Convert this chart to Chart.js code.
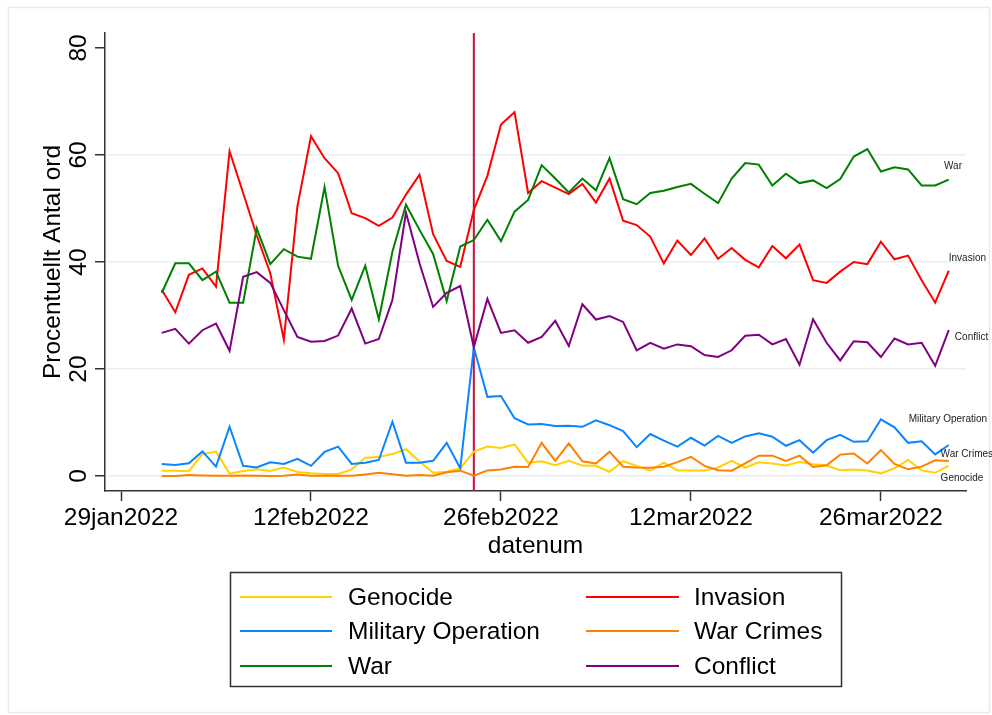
<!DOCTYPE html>
<html lang="en">
<head>
<meta charset="UTF-8">
<title>Procentuellt Antal ord</title>
<script src="https://cdn.jsdelivr.net/npm/chart.js@4"></script>
<style>
  html, body { margin: 0; padding: 0; background: #fff; }
</style>
</head>
<body>
<canvas id="myChart" width="992" height="715"></canvas>

<script>
  // day 0 of the x axis = 29jan2022 (first tick)
  const startDay = Date.UTC(2022, 0, 29);
  const dates = [];
  for (let t = Date.UTC(2022, 1, 1); t <= Date.UTC(2022, 2, 31); t += 864e5) {
    dates.push(new Date(t).toISOString().slice(0, 10));
  }
  const xTicks = ['2022-01-29', '2022-02-12', '2022-02-26', '2022-03-12', '2022-03-26'];
  const invasionDay = '2022-02-24';
  const yTicks = [0, 20, 40, 60, 80];
  const monthNames = ['jan', 'feb', 'mar', 'apr', 'may', 'jun', 'jul', 'aug', 'sep', 'oct', 'nov', 'dec'];

  const seriesNames = ['Genocide', 'Invasion', 'Military Operation', 'War Crimes', 'War', 'Conflict'];
  const seriesColors = ['#ffd200', '#ff0000', '#0a84ff', '#ff8000', '#008000', '#800080'];

  const genocide = [1, 1, 0.9, 4.1, 4.55, 0.45, 0.95, 1.25, 0.95, 1.6, 0.75, 0.5, 0.4, 0.4, 1.25,
    3.4, 3.55, 4.1, 5, 2.7, 0.6, 0.8, 1.45, 4.55, 5.5, 5.25, 5.9, 2.5, 2.75, 2,
    2.85, 1.95, 1.9, 0.8, 2.8, 1.9, 1, 2.5, 1.05, 1.05, 1.05, 1.6, 2.85, 1.55, 2.55,
    2.35, 1.95, 2.6, 2.2, 1.95, 1.1, 1.2, 1.05, 0.5, 1.45, 3, 1.05, 0.6, 1.95];
  const invasion = [34.8, 30.6, 37.6, 38.8, 35.4, 60.7, 52.9, 45, 37.9, 25.5, 50.4, 63.5, 59.4, 56.6, 49.1,
    48.2, 46.75, 48.3, 52.6, 56.3, 45.2, 40.2, 39.1, 49.75, 56.1, 65.7, 68, 52.9, 55.1, 53.9,
    52.7, 54.6, 51.1, 55.6, 47.7, 46.9, 44.75, 39.75, 44, 41.3, 44.4, 40.6, 42.6, 40.4, 39,
    43, 40.7, 43.25, 36.6, 36.1, 38.2, 40, 39.6, 43.8, 40.5, 41.2, 36.6, 32.4, 38.4];
  const militaryOperation = [2.25, 2.05, 2.4, 4.6, 1.75, 9.2, 1.9, 1.6, 2.55, 2.25, 3.2, 1.9, 4.5, 5.5, 2.25,
    2.5, 3, 10.15, 2.5, 2.5, 2.85, 6.2, 1.45, 24, 14.8, 14.95, 10.8, 9.65, 9.7, 9.35,
    9.4, 9.2, 10.4, 9.5, 8.4, 5.4, 7.85, 6.6, 5.5, 7.15, 5.7, 7.5, 6.2, 7.4, 8,
    7.35, 5.65, 6.7, 4.35, 6.7, 7.7, 6.4, 6.5, 10.6, 9.1, 6.2, 6.5, 4.05, 5.8];
  const warCrimes = [0, 0, 0.2, 0.1, 0.05, 0.05, 0.1, 0.05, 0, 0.05, 0.3, 0.05, 0.05, 0.05, 0.05,
    0.3, 0.6, 0.35, 0.05, 0.2, 0.05, 0.7, 1, 0.05, 1.05, 1.2, 1.75, 1.7, 6.2, 2.85,
    6.1, 2.75, 2.35, 4.55, 1.75, 1.6, 1.55, 1.75, 2.6, 3.6, 1.9, 1.1, 1, 2.35, 3.8,
    3.8, 2.8, 3.8, 1.7, 2, 4, 4.2, 2.35, 4.85, 2.25, 1.25, 1.75, 2.95, 2.8];
  const war = [34.2, 39.75, 39.75, 36.6, 38.2, 32.4, 32.4, 46.3, 39.6, 42.4, 41, 40.6, 54, 39.3, 32.9,
    39.3, 29.3, 41.9, 50.7, 46, 41.5, 32.7, 42.9, 44.1, 47.9, 43.9, 49.4, 51.6, 58.1, 55.6,
    53, 55.6, 53.4, 59.4, 51.75, 50.8, 52.9, 53.3, 54, 54.6, 52.75, 51, 55.6, 58.5, 58.2,
    54.3, 56.5, 54.75, 55.25, 53.8, 55.5, 59.7, 61.1, 56.9, 57.7, 57.3, 54.3, 54.3, 55.4];
  const conflict = [26.75, 27.5, 24.75, 27.25, 28.5, 23.4, 37.25, 38.1, 36.1, 31, 26, 25.1, 25.25, 26.25, 31.3,
    24.75, 25.6, 32.9, 49.25, 39.75, 31.6, 34.25, 35.5, 24.1, 33.1, 26.75, 27.25, 24.9, 26, 29,
    24.3, 32.1, 29.25, 29.9, 28.8, 23.5, 24.9, 23.8, 24.6, 24.25, 22.6, 22.25, 23.5, 26.2, 26.4,
    24.6, 25.6, 20.8, 29.3, 24.9, 21.6, 25.2, 25, 22.25, 25.7, 24.6, 24.9, 20.6, 27.25];

  const seriesValues = [genocide, invasion, militaryOperation, warCrimes, war, conflict];

  function dayNum(s) {
    return (Date.parse(s) - startDay) / 864e5;
  }
  function fmtDay(v) {
    const d = new Date(startDay + Math.round(v) * 864e5);
    return String(d.getUTCDate()).padStart(2, '0') + monthNames[d.getUTCMonth()] + d.getUTCFullYear();
  }

  const bigFont = '24.5px "Liberation Sans", Arial, sans-serif';

  // end-of-line labels: [text, day number, value]
  const endLabels = [
    ['War', 60.65, 57.9],
    ['Invasion', 61.0, 40.7],
    ['Conflict', 61.45, 25.9],
    ['Military Operation', 58.05, 10.7],
    ['War Crimes', 60.4, 4.1],
    ['Genocide', 60.4, -0.5]
  ];

  const decor = {
    id: 'decor',
    beforeDraw(chart) {
      const c = chart.ctx;
      c.save();
      c.fillStyle = '#fff';
      c.fillRect(0, 0, chart.width, chart.height);
      c.strokeStyle = '#e4ecef';
      c.lineWidth = 1.5;
      c.strokeRect(8.5, 7.5, 981, 705);
      c.restore();
    },
    beforeDatasetsDraw(chart) {
      const c = chart.ctx, a = chart.chartArea;
      const x = chart.scales.x.getPixelForValue(dayNum(invasionDay));
      c.save();
      c.strokeStyle = '#c8103a';
      c.lineWidth = 2;
      c.beginPath();
      c.moveTo(x, a.top);
      c.lineTo(x, a.bottom);
      c.stroke();
      c.restore();
    },
    afterDraw(chart) {
      const c = chart.ctx, a = chart.chartArea;
      const xs = chart.scales.x, ys = chart.scales.y;
      c.save();
      c.fillStyle = '#000';
      c.font = bigFont;

      // rotated y tick labels
      c.textAlign = 'center';
      c.textBaseline = 'alphabetic';
      yTicks.forEach(v => {
        c.save();
        c.translate(85.5, ys.getPixelForValue(v));
        c.rotate(-Math.PI / 2);
        c.fillText(String(v), 0, 0);
        c.restore();
      });

      // y title
      c.save();
      c.translate(60, (a.top + a.bottom) / 2);
      c.rotate(-Math.PI / 2);
      c.fillText('Procentuellt Antal ord', 0, 0);
      c.restore();

      // x title
      c.fillText('datenum', (a.left + a.right) / 2, 553);

      // labels at line ends
      c.font = '10px "Liberation Sans", Arial, sans-serif';
      c.fillStyle = '#222';
      c.textAlign = 'left';
      c.textBaseline = 'middle';
      endLabels.forEach(([t, d, v]) => {
        c.fillText(t, xs.getPixelForValue(d), ys.getPixelForValue(v));
      });

      // legend
      c.strokeStyle = '#333';
      c.lineWidth = 1.5;
      c.strokeRect(230.5, 572.5, 611, 114);
      c.font = bigFont;
      c.fillStyle = '#000';
      c.textBaseline = 'middle';
      const rows = [597, 631, 666];
      const cols = [{ l0: 240, l1: 332, t: 348 }, { l0: 586, l1: 679, t: 694 }];
      seriesNames.forEach((name, i) => {
        const col = cols[i % 2], y = rows[Math.floor(i / 2)];
        c.strokeStyle = seriesColors[i];
        c.lineWidth = 2;
        c.beginPath();
        c.moveTo(col.l0, y);
        c.lineTo(col.l1, y);
        c.stroke();
        c.fillText(name, col.t, y + 1);
      });
      c.restore();
    }
  };

  const ctx = document.getElementById('myChart');
  const myChart = new Chart(ctx, {
    type: 'line',
    data: {
      datasets: seriesNames.map((name, i) => ({
        label: name,
        data: dates.map((d, j) => ({ x: dayNum(d), y: seriesValues[i][j] })),
        borderColor: seriesColors[i],
        backgroundColor: seriesColors[i],
        borderWidth: 2,
        pointRadius: 0,
        tension: 0,
        fill: false,
        order: 6 - i
      }))
    },
    options: {
      responsive: false,
      animation: false,
      events: [],
      layout: { padding: { top: 33, right: 26, left: 0, bottom: 0 } },
      plugins: {
        legend: { display: false },
        tooltip: { enabled: false }
      },
      scales: {
        x: {
          type: 'linear',
          min: -1.18,
          max: 62.27,
          afterBuildTicks: s => { s.ticks = xTicks.map(d => ({ value: dayNum(d) })); },
          afterFit: s => { s.height = 224; },
          ticks: {
            callback: v => fmtDay(v),
            font: { family: '"Liberation Sans", Arial, sans-serif', size: 24.5 },
            color: '#000',
            maxRotation: 0,
            autoSkip: false,
            padding: 3
          },
          grid: { drawOnChartArea: false, tickLength: 10, tickColor: '#333', tickWidth: 1.5 },
          border: { color: '#333', width: 1.5 }
        },
        y: {
          min: -2.8,
          max: 82.8,
          afterBuildTicks: s => { s.ticks = yTicks.map(v => ({ value: v })); },
          afterFit: s => { s.width = 105; },
          ticks: { display: false },
          grid: {
            color: c => (c.tick && c.tick.value === 80) ? 'rgba(0,0,0,0)' : '#e8eff2',
            lineWidth: 1.5,
            tickLength: 10,
            tickColor: '#333',
            tickWidth: 1.5
          },
          border: { color: '#333', width: 1.5 }
        }
      }
    },
    plugins: [decor]
  });
</script>
</body>
</html>
